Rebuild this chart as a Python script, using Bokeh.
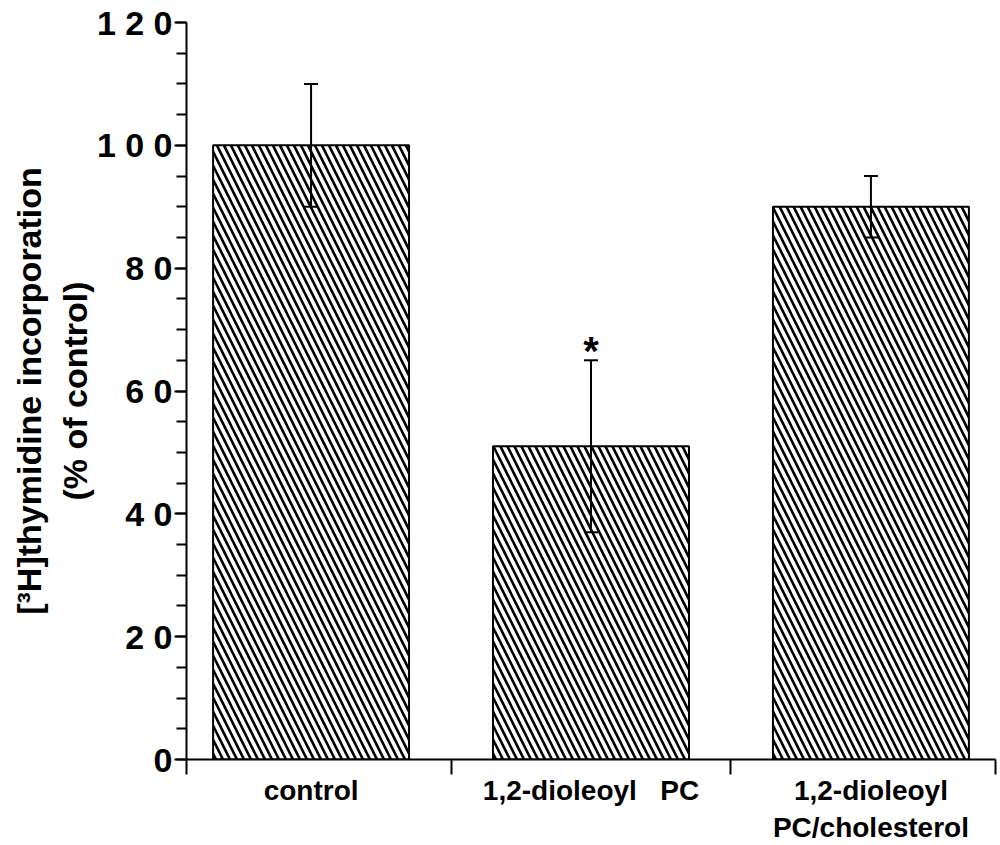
from bokeh.plotting import figure
from bokeh.models import (LinearAxis, FixedTicker, SingleIntervalTicker, Range1d,
                          Whisker, ColumnDataSource, TeeHead)
from bokeh.core.properties import value
from bokeh.embed import file_html
from bokeh.resources import INLINE

# ---- data ----
categories = ["control", "1,2-dioleoyl\u00a0\u00a0 PC", "1,2-dioleoyl\nPC/cholesterol"]
values = [100, 51, 90]
errors = [10, 14, 5]
significance = ["", "*", ""]
ytick_values = [0, 20, 40, 60, 80, 100, 120]
ytick_labels = ["0", "2 0", "4 0", "6 0", "8 0", "1 0 0", "1 2 0"]
ylabel = "[\u00b3H]thymidine incorporation\n(% of control)"

FONT = "Liberation Sans"
xs = list(range(1, len(categories) + 1))

p = figure(width=1000, height=845, x_range=Range1d(0.555, 3.445), y_range=Range1d(0, 120),
           x_axis_type=None, output_backend="svg", toolbar_location=None,
           min_border_left=186, min_border_top=22, min_border_right=5, min_border_bottom=83)
p.outline_line_color = None
p.ygrid.visible = False
p.background_fill_color = "white"
p.border_fill_color = "white"

# y axis
ya = p.yaxis[0]
ya.ticker = SingleIntervalTicker(interval=20, num_minor_ticks=4)
ya.major_label_overrides = {v: l for v, l in zip(ytick_values, ytick_labels)}
ya.axis_line_width = 2
ya.axis_line_color = "black"
ya.major_tick_line_width = 2
ya.minor_tick_line_width = 2
ya.major_tick_in = 0
ya.major_tick_out = 12
ya.minor_tick_in = 0
ya.minor_tick_out = 10
ya.major_label_text_font = FONT
ya.major_label_text_font_style = "bold"
ya.major_label_text_font_size = "34px"
ya.major_label_text_color = "black"
ya.major_label_standoff = 2
ya.axis_label = ylabel
ya.axis_label_text_font = FONT
ya.axis_label_text_font_style = "bold"
ya.axis_label_text_font_size = "34px"
ya.axis_label_text_color = "black"
ya.axis_label_standoff = 0

# x axis: separator ticks only
sep = LinearAxis(ticker=FixedTicker(ticks=[0.555, 1.5, 2.5, 3.445]))
sep.axis_line_width = 2
sep.major_tick_line_width = 2
sep.major_tick_in = 0
sep.major_tick_out = 15
sep.minor_tick_line_color = None
sep.major_label_text_font_size = "0px"
sep.major_label_text_color = None
sep.major_label_standoff = 0
p.add_layout(sep, "below")

# x axis: category labels
lab = LinearAxis(ticker=FixedTicker(ticks=xs))
lab.major_label_overrides = {x: c for x, c in zip(xs, categories)}
lab.axis_line_color = None
lab.major_tick_line_color = None
lab.minor_tick_line_color = None
lab.major_tick_in = 0
lab.major_tick_out = 0
lab.major_label_standoff = 0
lab.major_label_text_font = FONT
lab.major_label_text_font_style = "bold"
lab.major_label_text_font_size = "28px"
lab.major_label_text_color = "black"
p.add_layout(lab, "below")

src = ColumnDataSource(dict(x=xs, top=values,
                            upper=[v + e for v, e in zip(values, errors)],
                            lower=[v - e for v, e in zip(values, errors)],
                            sig=significance))

p.vbar(x="x", top="top", bottom=0, width=0.70, source=src,
       fill_color="white", line_color="black", line_width=2,
       hatch_pattern="left_diagonal_line", hatch_color="black",
       hatch_scale=14, hatch_weight=2.6)

w = Whisker(source=src, base="x", upper="upper", lower="lower",
            line_color="black", line_width=2, level="annotation",
            upper_head=TeeHead(size=14, line_width=2, line_color="black"),
            lower_head=TeeHead(size=14, line_width=2, line_color="black"))
p.add_layout(w)

p.text(x="x", y="upper", text="sig", source=src, y_offset=-9,
       text_font=value(FONT), text_font_style="bold", text_font_size="40px",
       text_align="center", text_baseline="alphabetic", text_color="black")

open("out.html", "w").write(file_html(p, INLINE))
